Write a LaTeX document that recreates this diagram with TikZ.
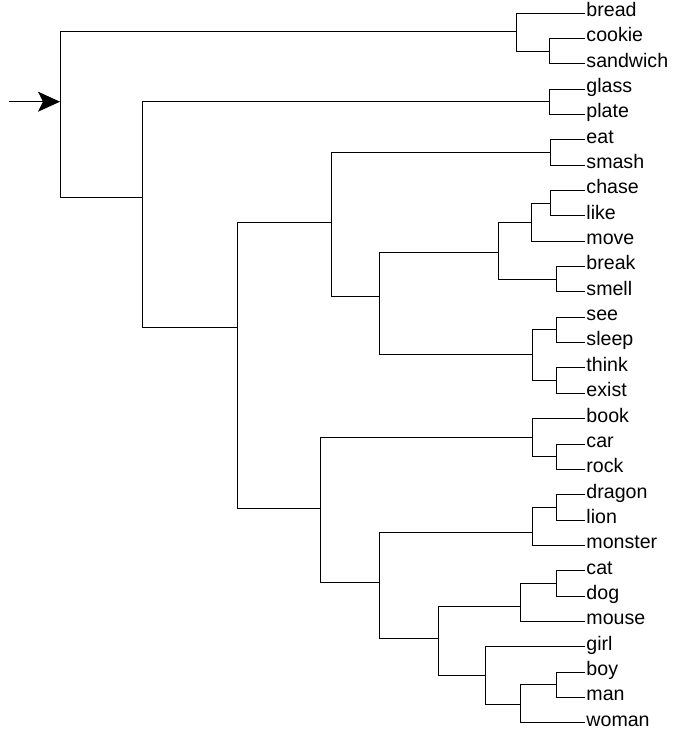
\documentclass[tikz,border=0pt]{standalone}
\usepackage{fontspec}
\setmainfont{Liberation Sans}
\usetikzlibrary{arrows.meta}

\begin{document}
\begin{tikzpicture}[x=1pt, y=-1pt, line width=0.9pt,
    leaf/.style={anchor=west, inner sep=1pt, text height=1.3ex, text depth=0pt, font=\fontsize{19.6}{21}\selectfont}]
    \useasboundingbox (0,0) rectangle (672,738);
    \def\dy{25.35}

    % Leaves (top to bottom)
    \foreach \w [count=\i from 0] in {bread,cookie,sandwich,glass,plate,eat,smash,chase,like,move,break,smell,see,sleep,think,exist,book,car,rock,dragon,lion,monster,cat,dog,mouse,girl,boy,man,woman} {
        \node[leaf] (\w) at (585, {13+\i*\dy}) {\w};
    }

    % Merge points (bar x, join y)
    \coordinate (cs)   at (549, 51);
    \coordinate (food) at (516, 31);
    \coordinate (gp)   at (549, 101.7);
    \coordinate (es)   at (550, 152.4);
    \coordinate (cl)   at (550, 203.1);
    \coordinate (clm)  at (531.7, 222);
    \coordinate (bs)   at (556, 279.2);
    \coordinate (cb)   at (498, 252);
    \coordinate (ss)   at (556, 329.9);
    \coordinate (te)   at (556, 380.6);
    \coordinate (st)   at (532, 354);
    \coordinate (vb)   at (379.3, 296);
    \coordinate (verb) at (331.7, 222);
    \coordinate (cr)   at (556, 456.6);
    \coordinate (bcr)  at (532, 437.6);
    \coordinate (dl)   at (556.7, 507.3);
    \coordinate (dlm)  at (532.5, 532);
    \coordinate (cd)   at (556.7, 583.4);
    \coordinate (cdm)  at (520.5, 606);
    \coordinate (bm)   at (556.7, 684.8);
    \coordinate (bmw)  at (520.5, 704);
    \coordinate (hum)  at (485, 675.4);
    \coordinate (mam)  at (438.3, 638);
    \coordinate (anim) at (379.3, 582);
    \coordinate (noun) at (320.7, 508);
    \coordinate (vn)   at (237.7, 327.7);
    \coordinate (rest) at (142.7, 197.3);
    \coordinate (root) at (60, 101.7);
    \coordinate (in)   at (9, 101.7);

    % Branches
    \foreach \c/\p in {bread/food, cs/food, cookie/cs, sandwich/cs, food/root,
        glass/gp, plate/gp, gp/rest,
        eat/es, smash/es, es/verb,
        chase/cl, like/cl, cl/clm, move/clm, clm/cb, break/bs, smell/bs, bs/cb, cb/vb,
        see/ss, sleep/ss, think/te, exist/te, ss/st, te/st, st/vb, vb/verb, verb/vn,
        book/bcr, car/cr, rock/cr, cr/bcr, bcr/noun,
        dragon/dl, lion/dl, dl/dlm, monster/dlm, dlm/anim,
        cat/cd, dog/cd, cd/cdm, mouse/cdm, cdm/mam,
        girl/hum, boy/bm, man/bm, bm/bmw, woman/bmw, bmw/hum, hum/mam, mam/anim,
        anim/noun, noun/vn, vn/rest, rest/root} {
        \draw (\c) -| (\p);
    }

    % Entry arrow
    \draw[-{Stealth[length=22pt, width=20pt, inset=5pt]}] (in) -- (root);
\end{tikzpicture}
\end{document}
